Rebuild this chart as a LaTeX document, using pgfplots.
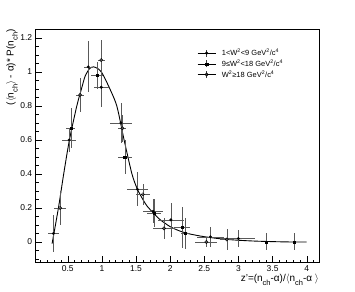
\documentclass[border=0pt]{standalone}
\usepackage{fontspec}
\setmainfont{Liberation Sans}
\usepackage{pgfplots}
\pgfplotsset{compat=1.18}
\newcommand\sub[1]{\raisebox{-0.4em}{\fontsize{7.5}{7.5}\selectfont #1}}
\begin{document}
\begin{tikzpicture}
\begin{axis}[
  scale only axis, width=283.3bp, height=233.4bp,
  xmin=0.03, xmax=4.18, ymin=-0.122, ymax=1.251,
  xtick={0.5,1,1.5,2,2.5,3,3.5,4},
  xticklabels={0.5,1,1.5,2,2.5,3,3.5,4},
  ytick={0,0.2,0.4,0.6,0.8,1,1.2},
  yticklabels={0,0.2,0.4,0.6,0.8,1,1.2},
  minor xtick={0.1,0.2,0.3,0.4,0.6,0.7,0.8,0.9,1.1,1.2,1.3,1.4,1.6,1.7,1.8,1.9,2.1,2.2,2.3,2.4,2.6,2.7,2.8,2.9,3.1,3.2,3.3,3.4,3.6,3.7,3.8,3.9,4.1},
  minor ytick={-0.1,-0.05,0.05,0.1,0.15,0.25,0.3,0.35,0.45,0.5,0.55,0.65,0.7,0.75,0.85,0.9,0.95,1.05,1.1,1.15,1.25},
  tick align=inside, tick pos=left,
  major tick length=6.5bp, minor tick length=3.2bp,
  every tick/.style={black, line width=0.4pt},
  axis line style={black, line width=0.6pt},
  ticklabel style={font=\fontsize{8.5}{10}\selectfont},
  xticklabel style={yshift=1bp},
  /pgf/number format/assume math mode=true,
  xlabel={z'=(n\sub{ch}-α)/$\langle$n\sub{ch}-α $\rangle$},
  ylabel={($\langle$n\sub{ch}$\rangle$ - α)* P(n\sub{ch})},
  xlabel style={at={(axis description cs:1,-0.047)}, anchor=north east, inner sep=0pt, font=\fontsize{10}{11}\selectfont},
  ylabel style={at={(axis description cs:-0.084,1)}, anchor=east, inner sep=0pt, font=\fontsize{10}{11}\selectfont},
  legend style={at={(axis description cs:0.57,0.925)}, anchor=north west, draw=none, fill=none,
    font=\fontsize{7.5}{8.5}\selectfont, inner sep=0pt, row sep=-1.4bp, column sep=4bp},
  legend cell align=left,
  legend image code/.code={
    \draw[black, line width=0.5pt] (0bp,0bp) -- (18bp,0bp);
    \draw[black!75, line width=0.5pt] (9bp,-3.5bp) -- (9bp,3.5bp);
    \draw[#1, mark repeat=1] plot coordinates {(9bp,0bp)};
  },
  error bars/error bar style={line width=0.5pt, black!65},
  error bars/error mark=none,
]
% fitted curve
\addplot[black, line width=0.9pt, smooth, tension=0.45, forget plot] coordinates {
(0.27,-0.01) (0.363,0.20) (0.44,0.40) (0.524,0.60) (0.632,0.80) (0.70,0.90) (0.754,0.975) (0.82,1.02) (0.876,1.03) (0.94,1.02) (1.0,0.995) (1.1,0.915) (1.218,0.80) (1.325,0.60) (1.44,0.40) (1.52,0.31) (1.6,0.25) (1.66,0.212) (1.75,0.172) (1.85,0.132) (2.0,0.09) (2.15,0.063) (2.3,0.046) (2.5,0.031) (2.75,0.018) (3.0,0.01) (3.25,0.005) (3.5,0.002) (3.75,0.0) (4.0,0.0)
};
% 1<W2<9
\addplot[black, only marks, mark=*, mark size=1.3pt,
  error bars/.cd, x dir=both, x explicit, y dir=both, y explicit]
table[x=x, y=y, x error=ex, y error=ey] {
x y ex ey
0.29 0.05 0.08 0.11
0.52 0.60 0.10 0.07
0.80 1.03 0.065 0.15
0.99 0.91 0.11 0.115
1.28 0.70 0.155 0.12
1.52 0.31 0.15 0.10
1.75 0.18 0.15 0.07
2.01 0.13 0.19 0.10
2.59 0.03 0.20 0.06
3.00 0.02 0.24 0.05
};
\addlegendentry{1<W\textsuperscript{2}<9 GeV\textsuperscript{2}/c\textsuperscript{4}}
% 9<=W2<18
\addplot[black, only marks, mark=square*, mark size=1.1pt,
  error bars/.cd, x dir=both, x explicit, y dir=both, y explicit]
table[x=x, y=y, x error=ex, y error=ey] {
x y ex ey
0.545 0.67 0.065 0.12
0.925 0.98 0.085 0.08
1.335 0.50 0.10 0.10
1.76 0.17 0.10 0.08
2.175 0.085 0.12 0.12
2.22 0.05 0.06 0.09
3.41 0.00 0.0 0.05
3.82 0.00 0.0 0.05
};
\addlegendentry{9≤W\textsuperscript{2}<18 GeV\textsuperscript{2}/c\textsuperscript{4}}
% W2>=18
\addplot[black, only marks, mark=o, mark size=1.6pt, mark options={fill=white, line width=0.5pt},
  error bars/.cd, x dir=both, x explicit, y dir=both, y explicit]
table[x=x, y=y, x error=ex, y error=ey] {
x y ex ey
0.388 0.20 0.09 0.10
0.68 0.865 0.06 0.10
0.99 1.07 0.05 0.12
1.30 0.669 0.06 0.08
1.60 0.28 0.10 0.06
1.91 0.08 0.16 0.06
2.53 0.00 0.16 0.03
2.83 0.015 0.10 0.06
};
\addlegendentry{W\textsuperscript{2}≥18 GeV\textsuperscript{2}/c\textsuperscript{4}}
\end{axis}
\pgfresetboundingbox
\path[use as bounding box] (current axis.south west) ++(-35.7bp,-29.3bp) rectangle ++(355bp,292bp);
\end{tikzpicture}
\end{document}
